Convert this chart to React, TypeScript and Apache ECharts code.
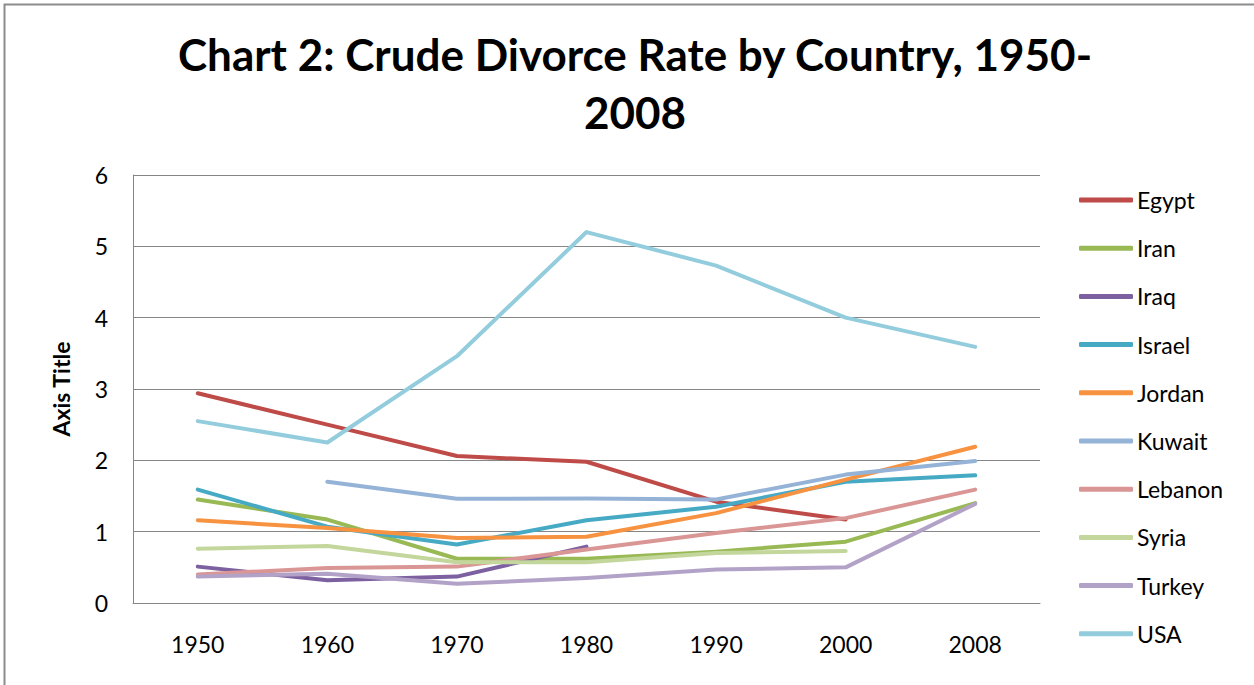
import React, { useEffect, useRef } from "react";
import * as echarts from "echarts";

const years = ["1950", "1960", "1970", "1980", "1990", "2000", "2008"];
const countries = ["Egypt", "Iran", "Iraq", "Israel", "Jordan", "Kuwait", "Lebanon", "Syria", "Turkey", "USA"];
const egypt = [2.94, 2.5, 2.06, 1.98, 1.42, 1.17, null];
const iran = [1.45, 1.17, 0.62, 0.62, 0.72, 0.86, 1.4];
const iraq = [0.51, 0.32, 0.37, 0.79, null, null, null];
const israel = [1.59, 1.07, 0.82, 1.16, 1.35, 1.7, 1.79];
const jordan = [1.16, 1.05, 0.91, 0.93, 1.26, 1.73, 2.19];
const kuwait = [null, 1.7, 1.46, 1.465, 1.45, 1.8, 1.99];
const lebanon = [0.4, 0.49, 0.51, 0.75, 0.98, 1.19, 1.59];
const syria = [0.76, 0.8, 0.57, 0.57, 0.7, 0.73, null];
const turkey = [0.37, 0.41, 0.27, 0.35, 0.47, 0.5, 1.39];
const usa = [2.55, 2.25, 3.46, 5.2, 4.73, 4.0, 3.59];
const seriesValues = [egypt, iran, iraq, israel, jordan, kuwait, lebanon, syria, turkey, usa];
const colors = ["#BE4B48", "#98B954", "#7D60A0", "#46AAC5", "#F69240", "#95B3D7", "#D99694", "#C3D69B", "#B3A2C7", "#93CDDD"];
const yTicks = [0, 1, 2, 3, 4, 5, 6];

const FONT = "Lato, 'Open Sans', sans-serif";

export default function App() {
  const ref = useRef<HTMLDivElement>(null);
  useEffect(() => {
    if (!ref.current) return;
    const chart = echarts.init(ref.current, null, { renderer: "svg" });
    chart.setOption({
      animation: false,
      backgroundColor: "#ffffff",
      color: colors,
      title: {
        text: "Chart 2: Crude Divorce Rate by Country, 1950-\n2008",
        left: 635,
        textAlign: "center",
        top: 25,
        padding: 0,
        textStyle: { fontFamily: FONT, fontWeight: "bold", fontSize: 44, lineHeight: 58, color: "#000" },
      },
      graphic: [
        {
          type: "rect",
          shape: { x: 4.5, y: 4.5, width: 1260, height: 700 },
          style: { fill: "none", stroke: "#8c8c8c", lineWidth: 2 },
          silent: true,
        },
      ],
      legend: {
        orient: "vertical",
        left: 1079,
        top: 186,
        padding: 0,
        icon: "roundRect",
        itemWidth: 54,
        itemHeight: 5,
        itemGap: 20.2,
        data: countries,
        textStyle: { fontFamily: FONT, fontSize: 23, color: "#000", lineHeight: 28, padding: [0, 0, 0, -1] },
      },
      grid: { left: 133, top: 175, right: 214, bottom: 82, containLabel: false },
      xAxis: {
        type: "category",
        data: years,
        boundaryGap: true,
        axisLine: { lineStyle: { color: "#868686", width: 1 } },
        axisTick: { show: false },
        axisLabel: { fontFamily: FONT, fontSize: 23, color: "#000", margin: 29 },
      },
      yAxis: {
        type: "value",
        min: yTicks[0],
        max: yTicks[yTicks.length - 1],
        interval: 1,
        name: "Axis Title",
        nameLocation: "middle",
        nameRotate: 90,
        nameGap: 61,
        nameTextStyle: { fontFamily: FONT, fontWeight: "bold", fontSize: 23, color: "#000" },
        axisLine: { show: true, lineStyle: { color: "#868686", width: 1 } },
        axisTick: { show: false },
        splitLine: { lineStyle: { color: "#868686", width: 1 } },
        axisLabel: { fontFamily: FONT, fontSize: 23, color: "#000", margin: 25 },
      },
      series: countries.map((name, i) => ({
        name,
        type: "line",
        data: seriesValues[i],
        symbol: "none",
        showSymbol: false,
        connectNulls: false,
        lineStyle: { width: 4, color: colors[i], cap: "round", join: "round" },
        itemStyle: { color: colors[i] },
      })),
    });
    return () => chart.dispose();
  }, []);
  return <div ref={ref} style={{ position: "fixed", left: 0, top: 0, width: 1254, height: 685 }} />;
}
